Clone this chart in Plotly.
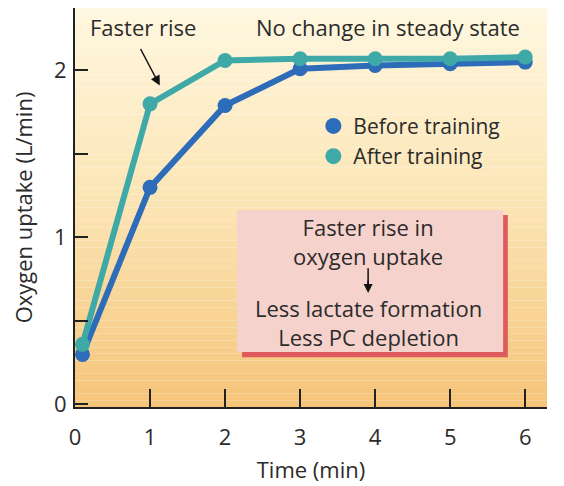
import plotly.graph_objects as go

# data
time_before = [0.1, 1, 2, 3, 4, 5, 6]
uptake_before = [0.30, 1.30, 1.79, 2.01, 2.03, 2.04, 2.05]
time_after = [0.1, 1, 2, 3, 4, 5, 6]
uptake_after = [0.36, 1.80, 2.06, 2.07, 2.07, 2.07, 2.08]

y_ticks = [0, 0.5, 1, 1.5, 2]
y_labels = ["0", "", "1", "", "2"]
x_ticks = [0, 1, 2, 3, 4, 5, 6]

BLUE = "#2c6cb8"
TEAL = "#3fa9a8"
INK = "#2b2b2b"
FONT = "Open Sans"
FS = 22


def mix(c1, c2, t):
    a = [int(c1[i:i + 2], 16) for i in (1, 3, 5)]
    b = [int(c2[i:i + 2], 16) for i in (1, 3, 5)]
    return "rgb(%d,%d,%d)" % tuple(round(a[k] + (b[k] - a[k]) * t) for k in range(3))


def label(text, x, y):
    return dict(text=text, x=x, y=y, xref="paper", yref="paper",
                xanchor="center", yanchor="middle", showarrow=False,
                font=dict(size=FS, color=INK))


fig = go.Figure()

fig.add_trace(go.Scatter(x=time_before, y=uptake_before, mode="lines+markers",
                         line=dict(color=BLUE, width=6), marker=dict(size=15, color=BLUE),
                         showlegend=False))
fig.add_trace(go.Scatter(x=time_after, y=uptake_after, mode="lines+markers",
                         line=dict(color=TEAL, width=6), marker=dict(size=15, color=TEAL),
                         showlegend=False))
# legend entries: dots only
fig.add_trace(go.Scatter(x=[None], y=[None], mode="markers", name="Before training",
                         marker=dict(size=16, color=BLUE)))
fig.add_trace(go.Scatter(x=[None], y=[None], mode="markers", name="After training",
                         marker=dict(size=16, color=TEAL)))

# background gradient (cream at top to orange at bottom)
shapes = []
n = 60
for i in range(n):
    t = i / (n - 1)
    if t < 0.5:
        col = mix("#fff7df", "#fbe4b3", t / 0.5)
    else:
        col = mix("#fbe4b3", "#f5c57a", (t - 0.5) / 0.5)
    shapes.append(dict(type="rect", xref="paper", yref="paper", layer="below",
                       x0=0, x1=1, y0=1 - (i + 1) / n, y1=1 - i / n,
                       fillcolor=col, line=dict(width=0)))

# note box with red extruded edge
shapes.append(dict(type="rect", xref="paper", yref="paper", x0=0.354, x1=0.917,
                   y0=0.125, y1=0.481, fillcolor="#de5a5c", line=dict(width=0)))
shapes.append(dict(type="rect", xref="paper", yref="paper", x0=0.343, x1=0.907,
                   y0=0.138, y1=0.494, fillcolor="#f6d2cd", line=dict(width=0)))
# shaft of the arrow inside the box
shapes.append(dict(type="line", xref="paper", yref="paper", x0=0.621, x1=0.621,
                   y0=0.300, y1=0.348, line=dict(color="#111", width=1.5)))

annotations = [
    label("Faster rise", 0.144, 0.952),
    dict(text="", x=1.13, y=1.91, xref="x", yref="y", ax=-20, ay=-38,
         showarrow=True, arrowhead=2, arrowsize=1.3, arrowwidth=1.5, arrowcolor="#111"),
    label("No change in steady state", 0.663, 0.952),
    label("Faster rise in<br>oxygen uptake", 0.621, 0.414),
    dict(text="", x=0.621, y=0.286, xref="paper", yref="paper", ax=0, ay=-14,
         showarrow=True, arrowhead=2, arrowsize=1.2, arrowwidth=1.5, arrowcolor="#111"),
    label("Less lactate formation<br>Less PC depletion", 0.621, 0.212),
]

# the page adds an 8px body margin, so the figure is drawn 8px smaller
fig.update_layout(
    width=556, height=478,
    margin=dict(l=67, r=17, t=0, b=79, autoexpand=False),
    paper_bgcolor="white",
    plot_bgcolor="rgba(0,0,0,0)",
    font=dict(family=FONT, size=FS, color=INK),
    shapes=shapes,
    annotations=annotations,
    legend=dict(x=0.505, y=0.755, xanchor="left", yanchor="top",
                bgcolor="rgba(0,0,0,0)", font=dict(size=21, color=INK),
                itemwidth=30, tracegroupgap=0),
)
fig.update_xaxes(range=[0, 6.29], tickvals=x_ticks, ticks="inside", ticklen=18,
                 tickwidth=2, tickcolor="#222", showline=True, linecolor="#222",
                 linewidth=2, showgrid=False, zeroline=False, ticklabelstandoff=10,
                 title=dict(text="Time (min)", standoff=12, font=dict(size=FS)))
fig.update_yaxes(range=[-0.015, 2.374], tickvals=y_ticks, ticktext=y_labels,
                 ticks="inside", ticklen=13, tickwidth=2, tickcolor="#222",
                 showline=True, linecolor="#222", linewidth=2, showgrid=False,
                 zeroline=False, ticklabelstandoff=2,
                 title=dict(text="Oxygen uptake (L/min)", standoff=18, font=dict(size=FS)))

fig.write_html("out.html")
